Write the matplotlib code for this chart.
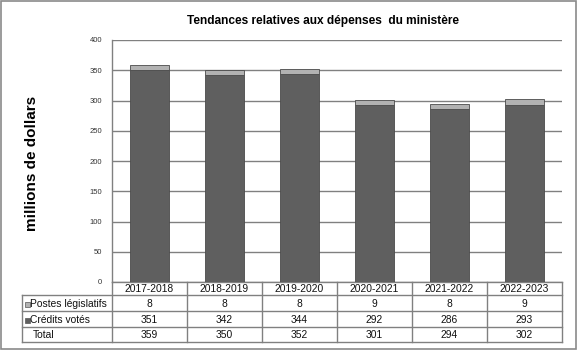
import matplotlib.pyplot as plt
from matplotlib.patches import Rectangle
from matplotlib.transforms import blended_transform_factory

plt.rcParams["font.family"] = ["Liberation Sans", "DejaVu Sans"]

# Fiscal years and spending (millions of dollars).
years = ["2017-2018", "2018-2019", "2019-2020", "2020-2021", "2021-2022", "2022-2023"]
credits_votes = [351, 342, 344, 292, 286, 293]
postes_legislatifs = [8, 8, 8, 9, 8, 9]
totals = [359, 350, 352, 301, 294, 302]

dark_grey = "#5f5f5f"
light_grey = "#b2b2b2"
line_grey = "#808080"

W, H = 582, 356
fig = plt.figure(figsize=(W / 100, H / 100), dpi=100)
ax = fig.add_axes([112 / W, 1 - 282 / H, 450 / W, 242 / H])

x = list(range(len(years)))
ax.bar(x, credits_votes, width=0.51, color=dark_grey, edgecolor="#4a4a4a",
       linewidth=0.6, zorder=3)
ax.bar(x, postes_legislatifs, width=0.51, bottom=credits_votes, color=light_grey,
       edgecolor="#4a4a4a", linewidth=0.6, zorder=3)

ax.set_xlim(-0.5, len(years) - 0.5)
ax.set_ylim(0, 400)
ax.set_yticks(range(0, 401, 50))
ax.tick_params(axis="y", length=0, pad=7, labelsize=5.5, labelcolor="#333333")
ax.set_xticks([])
ax.grid(axis="y", color=line_grey, linewidth=1.0, zorder=0)
for side in ["top", "right", "bottom"]:
    ax.spines[side].set_visible(False)
ax.spines["left"].set_color(line_grey)
ax.spines["left"].set_linewidth(1.0)

# Data table under the bars: x follows the categories, y in figure pixels.
trans = blended_transform_factory(ax.transData, fig.transFigure)
def fy(py):
    return 1 - py / H

row_edges = [282, 295, 311, 327, 342]
label_left = -0.5 - 90 / 75
right = len(years) - 0.5
line_kw = dict(color=line_grey, linewidth=1.0, transform=trans, clip_on=False)

# horizontal lines
ax.plot([-0.5, right], [fy(row_edges[0])] * 2, **line_kw)
for py in row_edges[1:]:
    ax.plot([label_left, right], [fy(py)] * 2, **line_kw)
# vertical lines
for i in range(len(years) + 1):
    ax.plot([i - 0.5, i - 0.5], [fy(row_edges[0]), fy(row_edges[-1])], **line_kw)
ax.plot([label_left, label_left], [fy(row_edges[1]), fy(row_edges[-1])], **line_kw)

rows = [("Postes législatifs", postes_legislatifs, light_grey),
        ("Crédits votés", credits_votes, dark_grey),
        ("Total", totals, None)]

table_fs = 7.4
for i, year in enumerate(years):
    ax.text(i, fy((row_edges[0] + row_edges[1]) / 2 + 1), year, transform=trans,
            ha="center", va="center", fontsize=table_fs, color="#111111")

for r, (label, values, colour) in enumerate(rows):
    yc = fy((row_edges[r + 1] + row_edges[r + 2]) / 2 + 1)
    for i, v in enumerate(values):
        ax.text(i, yc, str(v), transform=trans, ha="center", va="center",
                fontsize=table_fs, color="#111111")
    if colour is not None:
        ax.add_patch(Rectangle((25 / W, yc - 2.5 / H), 5 / W, 5 / H,
                               transform=fig.transFigure, facecolor=colour,
                               edgecolor="#555555", linewidth=0.5, clip_on=False))
        ax.text(30.5 / W, yc, label, transform=fig.transFigure, ha="left",
                va="center", fontsize=table_fs, color="#111111")
    else:
        ax.text(33 / W, yc, label, transform=fig.transFigure, ha="left",
                va="center", fontsize=table_fs, color="#111111")

ax.set_ylabel("millions de dollars", fontsize=11, fontweight="bold")
ax.yaxis.set_label_coords(-0.163, 0.49)

fig.text(323 / W, 1 - 21 / H, "Tendances relatives aux dépenses  du ministère",
         ha="center", va="center", fontsize=8.6, fontweight="bold")

# Grey frame around the whole chart area.
fig.add_artist(Rectangle((1 / W, 1 - 349 / H), 575 / W, 348 / H,
                         transform=fig.transFigure, fill=False,
                         edgecolor="#8a8a8a", linewidth=1.2))

fig.savefig("out.png", dpi=100)
